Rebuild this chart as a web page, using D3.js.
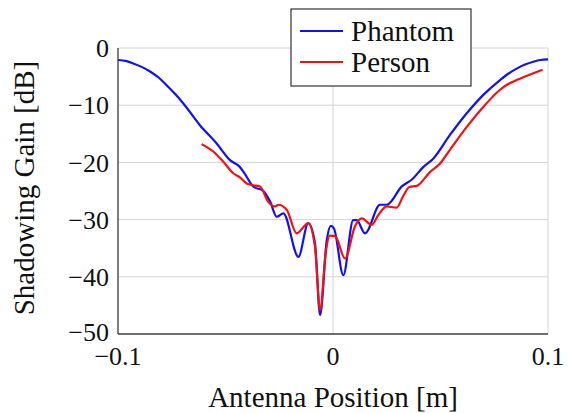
<!DOCTYPE html>
<html>
<head>
<meta charset="utf-8">
<script src="https://cdn.jsdelivr.net/npm/d3@7"></script>
<style>
  body { margin: 0; background: #fff; }
  text { font-family: "Liberation Serif", "Times New Roman", serif; fill: #111; }
</style>
</head>
<body>
<svg id="chart" width="568" height="413"></svg>
<script>
// Phantom measurement (blue)
const phantomX = [-0.1, -0.096, -0.0929, -0.089, -0.0851, -0.081, -0.0774, -0.0735, -0.0696, -0.0619, -0.0541, -0.0479, -0.0433, -0.0417,
  -0.0371, -0.0324, -0.0293, -0.0262, -0.0231, -0.0161, -0.0115, -0.0084, -0.006, -0.0029,
  -0.001, 0.0005, 0.0048, 0.0094, 0.011, 0.0149, 0.0219, 0.025, 0.032, 0.037,
  0.0415, 0.0467, 0.0544, 0.0622, 0.0699, 0.0777, 0.0815, 0.0854, 0.0893, 0.0932, 0.0965, 0.1];
const phantomY = [-2.1, -2.3, -2.7, -3.3, -4.1, -5.2, -6.5, -8.0, -9.7, -13.5, -16.7, -19.6, -20.8, -21.6,
  -24.2, -25.0, -26.8, -29.5, -28.9, -36.5, -30.6, -34.1, -46.7, -33.6,
  -31.1, -31.6, -39.7, -30.1, -30.1, -32.4, -27.4, -27.4, -24.2, -22.9,
  -21.0, -19.3, -15.2, -11.4, -8.2, -5.6, -4.5, -3.6, -2.9, -2.4, -2.1, -2.0];

// Person measurement (red)
const personX = [-0.0611, -0.0557, -0.051, -0.0464, -0.0433, -0.0401, -0.0371, -0.034, -0.0301, -0.027,
  -0.0254, -0.0215, -0.0169, -0.0115, -0.0084, -0.006, -0.0033, -0.0015, 0.001, 0.0056,
  0.0102, 0.0133, 0.018, 0.0211, 0.025, 0.0296, 0.0325, 0.0355, 0.039, 0.0451,
  0.0498, 0.0544, 0.0622, 0.0699, 0.0777, 0.0815, 0.0854, 0.0932, 0.0975];
const personY = [-16.8, -18.1, -19.9, -21.9, -22.6, -23.7, -24.0, -24.2, -26.9, -27.7,
  -27.4, -28.3, -32.4, -30.6, -34.7, -45.8, -35.5, -32.8, -32.9, -36.8,
  -31.2, -29.8, -30.9, -29.2, -27.7, -27.9, -26.0, -24.3, -24.1, -21.7,
  -20.2, -17.8, -13.8, -10.3, -7.3, -6.3, -5.6, -4.4, -3.8];

const xTicks = [-0.1, 0, 0.1];
const xTickLabels = ["\u22120.1", "0", "0.1"];
const yTicks = [0, -10, -20, -30, -40, -50];
const yTickLabels = ["0", "\u221210", "\u221220", "\u221230", "\u221240", "\u221250"];

const seriesNames = ["Phantom", "Person"];
const seriesColors = ["#1010f4", "#f41010"];

const svg = d3.select("#chart");
const margin = { top: 48, right: 20, bottom: 79, left: 118 };
const width = 568 - margin.left - margin.right;
const height = 413 - margin.top - margin.bottom;

const g = svg.append("g").attr("transform", `translate(${margin.left},${margin.top})`);

const x = d3.scaleLinear().domain([-0.1, 0.1]).range([0, width]);
const y = d3.scaleLinear().domain([-50, 0]).range([height, 0]);

// grid
g.selectAll(".gy").data(yTicks).enter().append("line")
  .attr("x1", 0).attr("x2", width)
  .attr("y1", d => y(d)).attr("y2", d => y(d))
  .style("stroke", "#d4d4d4").style("stroke-width", 1);
g.selectAll(".gx").data(xTicks).enter().append("line")
  .attr("x1", d => x(d)).attr("x2", d => x(d))
  .attr("y1", 0).attr("y2", height)
  .style("stroke", "#d4d4d4").style("stroke-width", 1);

// axes (left + bottom dark)
g.append("line").attr("x1", 0).attr("x2", 0).attr("y1", 0).attr("y2", height)
  .style("stroke", "#444").style("stroke-width", 1.3);
g.append("line").attr("x1", 0).attr("x2", width).attr("y1", height).attr("y2", height)
  .style("stroke", "#444").style("stroke-width", 1.3);

// tick labels
g.selectAll(".yl").data(yTicks).enter().append("text")
  .attr("x", -9).attr("y", d => y(d) - (d === -50 ? 2 : 0)).attr("dy", "0.35em")
  .attr("text-anchor", "end").style("font-size", "26px")
  .text((d, i) => yTickLabels[i]);
g.selectAll(".xl").data(xTicks).enter().append("text")
  .attr("x", d => x(d)).attr("y", height + 31)
  .attr("text-anchor", "middle").style("font-size", "26px")
  .text((d, i) => xTickLabels[i]);

// axis titles
g.append("text")
  .attr("x", width / 2).attr("y", height + 73)
  .attr("text-anchor", "middle").style("font-size", "29px")
  .text("Antenna Position [m]");
g.append("text")
  .attr("transform", `translate(${-84},${height / 2 - 3}) rotate(-90)`)
  .attr("text-anchor", "middle").style("font-size", "29px")
  .text("Shadowing Gain [dB]");

// lines
const line = d3.line().x(d => x(d[0])).y(d => y(d[1])).curve(d3.curveMonotoneX);
const series = [d3.zip(phantomX, phantomY), d3.zip(personX, personY)];

g.selectAll(".series").data(series).enter().append("path")
  .attr("d", line)
  .style("fill", "none")
  .style("stroke", (d, i) => seriesColors[i])
  .style("stroke-width", 2.2)
  .style("stroke-linejoin", "round");

// legend
const legend = svg.append("g").attr("transform", "translate(291,9)");
legend.append("rect")
  .attr("width", 180).attr("height", 77)
  .style("fill", "#fff").style("stroke", "#333").style("stroke-width", 1.2);
seriesNames.forEach((name, i) => {
  const ly = 22 + i * 31;
  legend.append("line")
    .attr("x1", 9).attr("x2", 52).attr("y1", ly).attr("y2", ly)
    .style("stroke", seriesColors[i]).style("stroke-width", 2.2);
  legend.append("text")
    .attr("x", 60).attr("y", ly).attr("dy", "0.35em")
    .style("font-size", "29px")
    .text(name);
});
</script>
</body>
</html>
